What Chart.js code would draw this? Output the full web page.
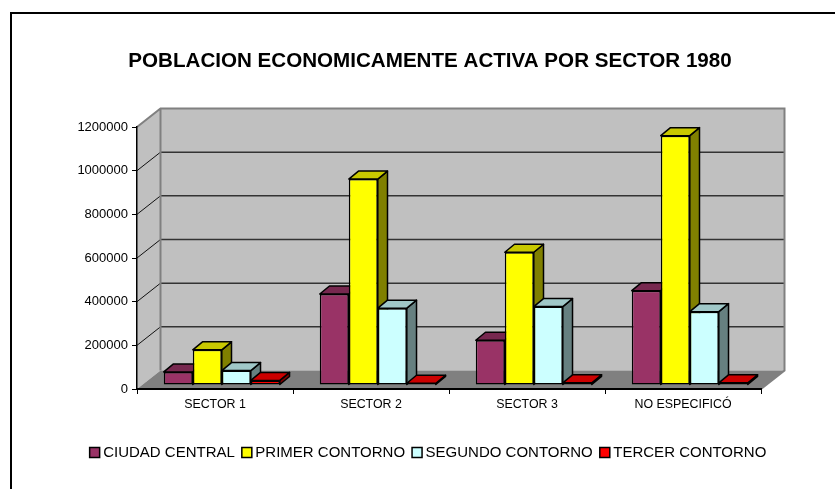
<!DOCTYPE html>
<html>
<head>
<meta charset="utf-8">
<style>html,body{margin:0;padding:0;background:#fff}canvas{display:block}</style>
<script src="https://cdn.jsdelivr.net/npm/chart.js@4"></script>
</head>
<body>
<canvas id="c" width="835" height="489"></canvas>
<script>
const categories = ['SECTOR 1', 'SECTOR 2', 'SECTOR 3', 'NO ESPECIFICÓ'];
const ciudadCentral = [60000, 417000, 205000, 432000];
const primerContorno = [161000, 943000, 608000, 1142000];
const segundoContorno = [66000, 352000, 359000, 336000];
const tercerContorno = [21000, 8000, 10000, 10000];
const titleText = 'POBLACION ECONOMICAMENTE ACTIVA POR SECTOR 1980';

const FONT = '"Liberation Sans", Arial, sans-serif';
const WALL = {dx: 23.5, dy: -18.5};
const BAR_OFF = {dx: 6.8, dy: -4};
const BAR_DEPTH = {dx: 9.7, dy: -8};
const shades = [
  {front: '#993366', top: '#77284F', side: '#4D1A33'},
  {front: '#FFFF00', top: '#C8C800', side: '#808000'},
  {front: '#CCFFFF', top: '#A0C8C8', side: '#668080'},
  {front: '#FF0000', top: '#CC0000', side: '#800000'}
];

function poly(ctx, pts, fill, stroke, lw) {
  ctx.beginPath();
  pts.forEach((p, i) => i ? ctx.lineTo(p[0], p[1]) : ctx.moveTo(p[0], p[1]));
  ctx.closePath();
  if (fill) { ctx.fillStyle = fill; ctx.fill(); }
  if (stroke) { ctx.strokeStyle = stroke; ctx.lineWidth = lw; ctx.lineJoin = 'round'; ctx.stroke(); }
}
function seg(ctx, x1, y1, x2, y2, color, lw) {
  ctx.beginPath(); ctx.moveTo(x1, y1); ctx.lineTo(x2, y2);
  ctx.strokeStyle = color; ctx.lineWidth = lw; ctx.stroke();
}

const box3d = {
  id: 'box3d',
  beforeDraw(chart) {
    const {ctx, chartArea: a, scales} = chart;
    const {dx, dy} = WALL;
    ctx.save();
    ctx.fillStyle = '#fff';
    ctx.fillRect(0, 0, chart.width, chart.height);
    seg(ctx, 11, 490, 11, 13, '#000', 2);
    seg(ctx, 10, 13, 835, 13, '#000', 2);
    poly(ctx, [[a.left, a.top], [a.left + dx, a.top + dy], [a.left + dx, a.bottom + dy], [a.left, a.bottom]], '#C0C0C0');
    poly(ctx, [[a.left + dx, a.top + dy], [a.right + dx, a.top + dy], [a.right + dx, a.bottom + dy], [a.left + dx, a.bottom + dy]], '#C0C0C0');
    poly(ctx, [[a.left, a.bottom], [a.right, a.bottom], [a.right + dx, a.bottom + dy], [a.left + dx, a.bottom + dy]], '#808080');
    scales.y.ticks.forEach(t => {
      const y = scales.y.getPixelForValue(t.value);
      if (t.value > 0 && t.value < scales.y.max) {
        seg(ctx, a.left + dx, y + dy, a.right + dx, y + dy, '#333333', 1.5);
        seg(ctx, a.left, y, a.left + dx, y + dy, '#111111', 1);
      }
    });
    ctx.beginPath();
    ctx.moveTo(a.left, a.top);
    ctx.lineTo(a.left + dx, a.top + dy);
    ctx.lineTo(a.right + dx, a.top + dy);
    ctx.lineTo(a.right + dx, a.bottom + dy);
    ctx.lineTo(a.right, a.bottom);
    ctx.moveTo(a.left + dx, a.top + dy);
    ctx.lineTo(a.left + dx, a.bottom + dy);
    ctx.strokeStyle = '#808080'; ctx.lineWidth = 2; ctx.stroke();
    ctx.restore();
  },
  // The library paints the first dataset last; these boxes must overlap left to right.
  beforeDatasetDraw() { return false; },
  afterDatasetsDraw(chart) {
    const {ctx} = chart;
    const {dx, dy} = BAR_DEPTH;
    chart.data.datasets.forEach((_, i) => {
      const meta = chart.getDatasetMeta(i);
      const s = shades[i];
      ctx.save();
      ctx.translate(BAR_OFF.dx, BAR_OFF.dy);
      meta.data.forEach(b => {
        const l = b.x - b.width / 2, r = b.x + b.width / 2;
        const t = Math.min(b.y, b.base), u = Math.max(b.y, b.base);
        poly(ctx, [[r, t], [r + dx, t + dy], [r + dx, u + dy], [r, u]], s.side, '#000', 1.5);
        poly(ctx, [[l, t], [l + dx, t + dy], [r + dx, t + dy], [r, t]], s.top, '#000', 1.5);
      });
      meta.controller.draw();
      ctx.restore();
    });
  }
};

function ds(label, data, i) {
  return {label, data, backgroundColor: shades[i].front, borderColor: '#000', borderWidth: 1.5,
          borderSkipped: false, clip: false};
}

new Chart(document.getElementById('c'), {
  type: 'bar',
  data: {
    labels: categories,
    datasets: [
      ds('CIUDAD CENTRAL', ciudadCentral, 0),
      ds('PRIMER CONTORNO', primerContorno, 1),
      ds('SEGUNDO CONTORNO', segundoContorno, 2),
      ds('TERCER CONTORNO', tercerContorno, 3)
    ]
  },
  plugins: [box3d],
  options: {
    responsive: false,
    animation: false,
    layout: {padding: {left: 25, right: 0, top: 0, bottom: 19}},
    datasets: {bar: {categoryPercentage: 0.744, barPercentage: 1}},
    plugins: {
      tooltip: {enabled: false},
      title: {
        display: true, text: titleText, color: '#000',
        font: {family: FONT, size: 20.6, weight: 'bold', lineHeight: 1},
        padding: {top: 51, bottom: 55.4}
      },
      legend: {
        display: true, position: 'bottom',
        labels: {
          usePointStyle: true, pointStyle: 'rect', boxWidth: 2, boxHeight: 10,
          padding: 11, color: '#000',
          font: {family: FONT, size: 15}
        }
      }
    },
    scales: {
      x: {
        grid: {display: true, drawOnChartArea: false, drawTicks: true, tickLength: 5, color: '#000', offset: true},
        border: {color: '#000', width: 2},
        ticks: {color: '#000', font: {family: FONT, size: 12.4}, padding: 3, maxRotation: 0},
        afterFit(s) { s.height = 45; }
      },
      y: {
        min: 0, max: 1200000,
        grid: {display: true, drawOnChartArea: false, drawTicks: true, tickLength: 5, color: '#000'},
        border: {color: '#000', width: 1.5},
        ticks: {stepSize: 200000, color: '#000', font: {family: FONT, size: 13}, padding: 4,
                callback: v => String(v)},
        afterFit(s) { s.width = 112; }
      },
      yr: {
        position: 'right', display: true,
        grid: {display: false}, border: {display: false},
        ticks: {display: false},
        afterFit(s) { s.width = 74; }
      }
    }
  }
});
</script>
</body>
</html>
